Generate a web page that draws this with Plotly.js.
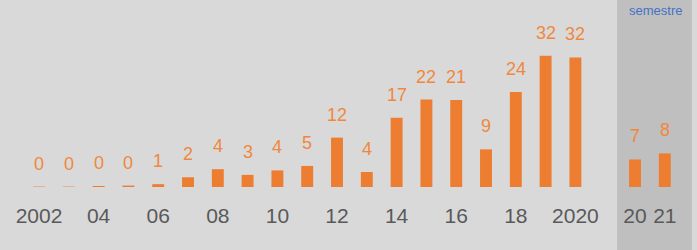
<!DOCTYPE html>
<html><head><meta charset="utf-8">
<script src="https://cdn.plot.ly/plotly-3.0.1.min.js"></script>
<style>html,body{margin:0;padding:0;background:#d9d9d9;}#chart{width:697px;height:250px;}</style>
</head><body><div id="chart"></div>
<script>
// Annual values 2002-2020
const years = ['2002','2003','2004','2005','2006','2007','2008','2009','2010','2011','2012','2013','2014','2015','2016','2017','2018','2019','2020'];
const annualValues = [0.1,0.1,0.25,0.35,0.7,2.4,4.4,3.0,4.1,5.2,12.2,3.7,17.1,21.6,21.5,9.3,23.5,32.4,32.0];
const annualLabels = ['0','0','0','0','1','2','4','3','4','5','12','4','17','22','21','9','24','32','32'];
// Semester values
const semesters = ['S2020','S2021'];
const semesterValues = [6.8,8.3];
const semesterLabels = ['7','8'];
const gapCategory = ['gap'];
// Tick labels
const tickCats = ['2002','2004','2006','2008','2010','2012','2014','2016','2018','2020','S2020','S2021'];
const tickText = ['2002','04','06','08','10','12','14','16','18','2020','20','21'];
const panelTitle = 'semestre';

const categories = years.concat(gapCategory, semesters);
const orange = '#ed7d31';
const labelColor = '#f0883c';
const font = 'Liberation Sans, Arial, sans-serif';

const traces = [
  {type:'bar', x:years, y:annualValues, marker:{color:orange}, hoverinfo:'none'},
  {type:'bar', x:semesters, y:semesterValues, marker:{color:orange}, hoverinfo:'none'}
];

const annotations = [];
function addLabels(cats, vals, labels){
  cats.forEach((c,i)=>annotations.push({x:categories.indexOf(c), y:vals[i], text:labels[i], xref:'x', yref:'y',
    showarrow:false, yanchor:'bottom', yshift:11, font:{family:font, size:18, color:labelColor}}));
}
addLabels(years, annualValues, annualLabels);
addLabels(semesters, semesterValues, semesterLabels);
annotations.push({x:categories.indexOf('S2020')+0.7, y:1, xref:'x', yref:'paper', text:panelTitle, showarrow:false,
  yanchor:'top', yshift:-1, font:{family:font, size:13, color:'#4472c4'}});

const layout = {
  width:697, height:250,
  margin:{l:0, r:0, t:0, b:63},
  paper_bgcolor:'#d9d9d9', plot_bgcolor:'#d9d9d9',
  showlegend:false, barmode:'group', bargap:0.6,
  xaxis:{type:'category', categoryorder:'array', categoryarray:categories,
    range:[-1.309, 22.08], tickvals:tickCats, ticktext:tickText, showgrid:false, zeroline:false,
    showline:false, ticks:'', ticklabelstandoff:14,
    tickfont:{family:font, size:21, color:'#595959'}},
  yaxis:{range:[0,46.2], visible:false, showgrid:false, zeroline:false},
  shapes:[{type:'rect', xref:'x', yref:'paper', x0:19.4, x1:21.91, y0:-0.4, y1:1, fillcolor:'#bfbfbf', line:{width:0}, layer:'below'}],
  annotations:annotations
};
Plotly.newPlot('chart', traces, layout, {displayModeBar:false, staticPlot:true});
</script></body></html>
